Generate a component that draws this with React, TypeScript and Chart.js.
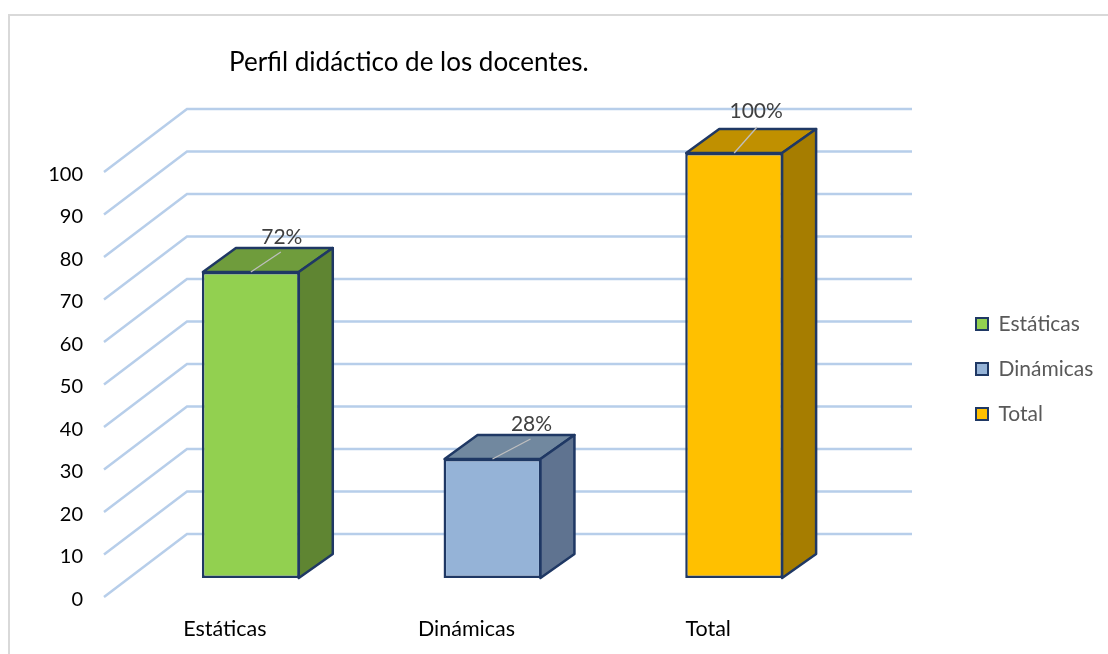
import React, { useEffect, useRef } from "react";
import { Chart, registerables } from "chart.js";

Chart.register(...registerables);

const titleText = "Perfil didáctico de los docentes.";
const categories = ["Estáticas", "Dinámicas", "Total"];
const values = [72, 28, 100];
const frontColors = ["#92D050", "#95B3D7", "#FFC000"];
const topColors = ["#6F9C3C", "#71889F", "#C09000"];
const sideColors = ["#5F8532", "#5F7390", "#A67D00"];
const edgeColor = "#1F3864";
const gridColor = "#B7CEEA";
// Pixel offsets of each data label's text and leader line from the bar's top centre
const labelDx = [31, 39, 22];
const labelDy = [-35, -35, -42];
const leaderEndDx = [30, 38, 23];
const leaderEndDy = [-20, -20, -26];

const FONT = "Lato";
const DEPTH_X = 33;
const DEPTH_Y = -24;

function poly(ctx: CanvasRenderingContext2D, pts: number[][], fill: string) {
  ctx.beginPath();
  pts.forEach((p, i) => (i ? ctx.lineTo(p[0], p[1]) : ctx.moveTo(p[0], p[1])));
  ctx.closePath();
  ctx.fillStyle = fill;
  ctx.fill();
  ctx.stroke();
}

const layoutFix = {
  id: "layoutFix",
  beforeLayout(chart: any) {
    const l = chart.legend;
    if (l && !l._wrapped) {
      const f = l.fit;
      l.fit = function () {
        f.call(this);
        this.width = 253;
      };
      l._wrapped = true;
    }
  },
  afterLayout(chart: any) {
    chart.legend.left = 952;
    chart.legend.top += 3.5;
    chart.legend.bottom += 3.5;
    chart.titleBlock.left = 229;
  },
};

const frame = {
  id: "frame",
  beforeDraw(chart: any) {
    const { ctx, width, height } = chart;
    ctx.save();
    ctx.fillStyle = "#FFFFFF";
    ctx.fillRect(0, 0, width, height);
    ctx.strokeStyle = "#D9D9D9";
    ctx.lineWidth = 2;
    ctx.beginPath();
    ctx.moveTo(9, height);
    ctx.lineTo(9, 15);
    ctx.lineTo(width, 15);
    ctx.stroke();
    ctx.restore();
  },
};

const grid3d = {
  id: "grid3d",
  beforeDatasetsDraw(chart: any) {
    const { ctx } = chart;
    const y = chart.scales.y;
    ctx.save();
    ctx.strokeStyle = gridColor;
    ctx.lineWidth = 2.5;
    y.ticks.forEach((_: any, i: number) => {
      const p = y.getPixelForTick(i);
      ctx.beginPath();
      ctx.moveTo(104, p + 19);
      ctx.lineTo(187, p - 44);
      ctx.lineTo(912, p - 44);
      ctx.stroke();
    });
    ctx.restore();
  },
};

const bars3d = {
  id: "bars3d",
  afterDatasetsDraw(chart: any) {
    const { ctx } = chart;
    const meta = chart.getDatasetMeta(0);
    ctx.save();
    ctx.lineJoin = "round";
    meta.data.forEach((b: any, i: number) => {
      const L = b.x - b.width / 2;
      const R = b.x + b.width / 2;
      const T = b.y;
      const B = b.base;
      ctx.strokeStyle = edgeColor;
      ctx.lineWidth = 2.5;
      poly(
        ctx,
        [
          [L + 1, T],
          [L + 1 + DEPTH_X, T + DEPTH_Y],
          [R + DEPTH_X, T + DEPTH_Y],
          [R - 1, T],
        ],
        topColors[i]
      );
      poly(
        ctx,
        [
          [R - 1, T],
          [R + DEPTH_X, T + DEPTH_Y],
          [R + DEPTH_X, B + DEPTH_Y],
          [R - 1, B],
        ],
        sideColors[i]
      );
      // leader line
      ctx.strokeStyle = "#BFBFBF";
      ctx.lineWidth = 1.3;
      ctx.beginPath();
      ctx.moveTo(b.x, T);
      ctx.lineTo(b.x + leaderEndDx[i], T + leaderEndDy[i]);
      ctx.stroke();
      // data label
      ctx.font = `21px ${FONT}`;
      ctx.fillStyle = "#404040";
      ctx.textAlign = "center";
      ctx.textBaseline = "middle";
      ctx.fillText(`${values[i]}%`, b.x + labelDx[i], T + labelDy[i]);
    });
    ctx.restore();
  },
};

export default function App() {
  const ref = useRef<HTMLCanvasElement>(null);
  useEffect(() => {
    const chart = new Chart(ref.current as HTMLCanvasElement, {
      type: "bar",
      data: {
        labels: categories,
        datasets: [
          {
            label: "Perfil",
            data: values,
            backgroundColor: frontColors,
            borderColor: edgeColor,
            borderWidth: 2.5,
            borderSkipped: false,
            barPercentage: 0.405,
            categoryPercentage: 1,
          },
        ],
      },
      options: {
        responsive: false,
        animation: false,
        layout: { padding: 0 },
        plugins: {
          title: {
            display: true,
            text: titleText,
            align: "start",
            color: "#000000",
            font: { family: FONT, size: 26, weight: "normal", lineHeight: 1.2 },
            padding: { top: 47, bottom: 74.8 },
          },
          legend: {
            display: true,
            position: "right",
            fullSize: false,
            onClick: () => {},
            labels: {
              font: { family: FONT, size: 21 },
              color: "#595959",
              boxWidth: 12,
              boxHeight: 12,
              padding: 24,
              generateLabels: () =>
                categories.map((c, i) => ({
                  text: c,
                  fillStyle: frontColors[i],
                  strokeStyle: edgeColor,
                  lineWidth: 2,
                  fontColor: "#595959",
                  index: i,
                })),
            },
          },
          tooltip: { enabled: false },
        },
        scales: {
          x: {
            grid: { display: false, drawTicks: false },
            border: { display: false },
            afterFit: (s: any) => {
              s.height = 76;
            },
            ticks: {
              color: "#000000",
              font: { family: FONT, size: 21.5 },
              padding: 38,
              labelOffset: -26,
              maxRotation: 0,
              autoSkip: false,
            },
          },
          y: {
            min: 0,
            max: 100,
            grid: { display: false, drawTicks: false },
            border: { display: false },
            afterFit: (s: any) => {
              s.width = 130;
            },
            ticks: {
              stepSize: 10,
              color: "#000000",
              font: { family: FONT, size: 20 },
              padding: 47,
              labelOffset: 21.5,
            },
          },
        },
      } as any,
      plugins: [layoutFix, frame, grid3d, bars3d],
    });
    return () => chart.destroy();
  }, []);
  return (
    <div style={{ position: "fixed", left: 0, top: 0, width: 1108, height: 654 }}>
      <canvas ref={ref} width={1108} height={654} style={{ display: "block" }} />
    </div>
  );
}
